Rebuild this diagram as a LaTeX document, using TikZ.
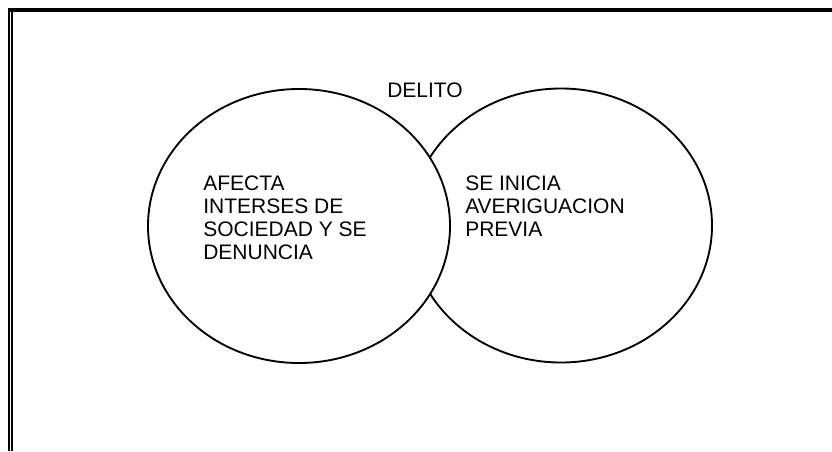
\documentclass[tikz,border=0pt]{standalone}
\usepackage{fontspec}
\setmainfont{Liberation Sans}
\usetikzlibrary{shapes.geometric}

\begin{document}
\begin{tikzpicture}[
  x=0.75pt, y=-0.75pt,
  circulo/.style={draw=black, ellipse, line width=1.4pt, inner sep=0pt,
    minimum width=226.5pt, minimum height=205.5pt},
  texto/.style={inner sep=0pt, align=left, anchor=base west,
    font=\fontsize{15.75}{17.25}\selectfont},
]
  \useasboundingbox (0,0) rectangle (832,451);
  % marco
  \coordinate (mtl) at (8,10);
  \coordinate (mtr) at (832,10);
  \draw[line width=3pt] (mtl) -- (mtr);
  \draw[line width=1.5pt] (9,8) -- (9,451);
  \draw[line width=1.5pt] (12,12) -- (12,451);

  \node[circulo] (der) at (561,225.5) {};
  \node[circulo, fill=white] (izq) at (299,226) {};

  \node[texto, anchor=base] (delito) at (425,97) {DELITO};
  \node[texto] (afecta) at (203,259.5) {AFECTA\\INTERSES DE\\SOCIEDAD Y SE\\DENUNCIA};
  \node[texto] (inicia) at (465,236.5) {SE INICIA\\AVERIGUACION\\PREVIA};
\end{tikzpicture}
\end{document}
